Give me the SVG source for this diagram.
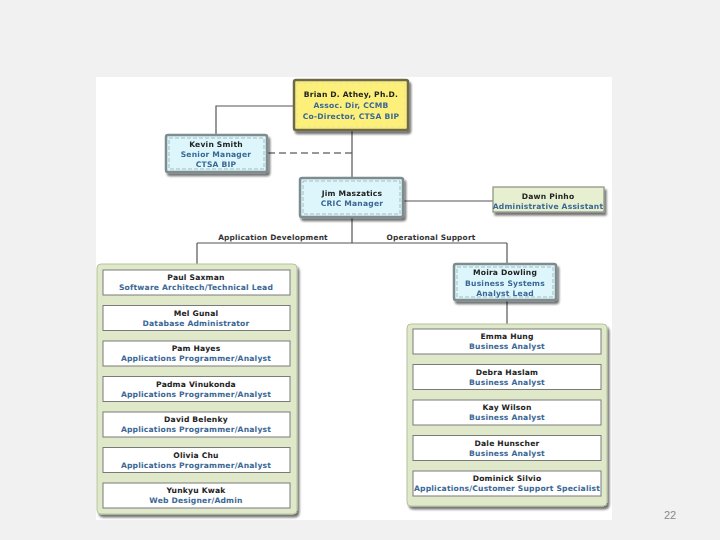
<svg xmlns="http://www.w3.org/2000/svg" width="720" height="540" viewBox="0 0 720 540">
<defs>
<filter id="sh" x="-10%" y="-10%" width="130%" height="140%">
<feGaussianBlur in="SourceAlpha" stdDeviation="1.2"/>
<feOffset dx="2" dy="2.5" result="o"/>
<feComponentTransfer><feFuncA type="linear" slope="0.55"/></feComponentTransfer>
<feMerge><feMergeNode/><feMergeNode in="SourceGraphic"/></feMerge>
</filter>
</defs>
<style>
.nm{font-family:"DejaVu Sans",Verdana,sans-serif;font-weight:bold;font-size:7.6px;letter-spacing:0.2px;fill:#222;text-anchor:middle}
.tt{font-family:"DejaVu Sans",Verdana,sans-serif;font-weight:bold;font-size:7.6px;letter-spacing:0.2px;fill:#3a6796;text-anchor:middle}
.lb{font-family:"DejaVu Sans",Verdana,sans-serif;font-weight:bold;font-size:7.4px;letter-spacing:0.2px;fill:#333;text-anchor:middle}
.ln{stroke:#555;stroke-width:1.2;fill:none}
.dl{stroke:#777;stroke-width:1.3;fill:none;stroke-dasharray:7,4}
.cy{fill:#ddf6fb;stroke:#7d8c8f;stroke-width:2.5}
.ye{fill:#fcf07a;stroke:#6e6a4a;stroke-width:2.5}
.in{fill:none;stroke:#ffffff;stroke-width:0.9;stroke-dasharray:4,2;opacity:0.9}
.grp{fill:#dfe8c8;stroke:#b5c29e;stroke-width:1}
.wb{fill:#ffffff;stroke:#7a7a7a;stroke-width:1}
.gr{fill:#e6efcf;stroke:#8a9080;stroke-width:1.2}
</style>
<rect x="0" y="0" width="720" height="540" fill="#f1f1f1"/>
<rect x="96" y="77" width="516" height="443" fill="#ffffff"/>

<g id="connectors">
<polyline class="ln" points="294,106 216,106 216,135"/>
<line class="dl" x1="268" y1="153" x2="352" y2="153"/>
<line class="ln" x1="352" y1="130" x2="352" y2="178"/>
<line class="ln" x1="403" y1="201" x2="493" y2="201"/>
<line class="ln" x1="352" y1="217" x2="352" y2="243"/>
<line class="ln" x1="197" y1="243" x2="507" y2="243"/>
<line class="ln" x1="197" y1="243" x2="197" y2="264"/>
<line class="ln" x1="507" y1="243" x2="507" y2="264"/>
<line class="ln" x1="507" y1="300" x2="507" y2="324"/>
<text class="lb" x="273" y="240">Application Development</text>
<text class="lb" x="431" y="240">Operational Support</text>
</g>

<g id="brian" filter="url(#sh)">
<rect class="ye" x="294" y="80" width="114" height="50" rx="2"/>
<rect class="in" x="297" y="83" width="108" height="44" style="stroke:#e8e0a0"/>
<text class="nm" x="351" y="97">Brian D. Athey, Ph.D.</text>
<text class="tt" x="351" y="108">Assoc. Dir, CCMB</text>
<text class="tt" x="351" y="119">Co-Director, CTSA BIP</text>
</g>

<g id="kevin" filter="url(#sh)">
<rect class="cy" x="166" y="135" width="101" height="37" rx="2"/>
<rect class="in" x="169" y="138" width="95" height="31" style="stroke:#9aabb0"/>
<text class="nm" x="216" y="147">Kevin Smith</text>
<text class="tt" x="216" y="157">Senior Manager</text>
<text class="tt" x="216" y="167">CTSA BIP</text>
</g>

<g id="jim" filter="url(#sh)">
<rect class="cy" x="300" y="178" width="103" height="39" rx="2"/>
<rect class="in" x="303" y="181" width="97" height="33" style="stroke:#9aabb0"/>
<text class="nm" x="352" y="196">Jim Maszatics</text>
<text class="tt" x="352" y="206">CRIC Manager</text>
</g>

<g id="dawn" filter="url(#sh)">
<rect class="gr" x="493" y="187" width="111" height="25"/>
<text class="nm" x="548" y="199">Dawn Pinho</text>
<text class="tt" x="548" y="209">Administrative Assistant</text>
</g>

<g id="moira" filter="url(#sh)">
<rect class="cy" x="454" y="264" width="102" height="36" rx="2"/>
<rect class="in" x="457" y="267" width="96" height="30" style="stroke:#9aabb0"/>
<text class="nm" x="505" y="275">Moira Dowling</text>
<text class="tt" x="505" y="285.5">Business Systems</text>
<text class="tt" x="505" y="296">Analyst Lead</text>
</g>

<g id="appdev" filter="url(#sh)">
<rect class="grp" x="97" y="264" width="200" height="250" rx="4"/>
</g>
<g id="paul"><rect class="wb" x="103" y="270" width="187" height="25"/><text class="nm" x="196" y="280">Paul Saxman</text><text class="tt" x="196" y="290">Software Architech/Technical Lead</text></g>
<g id="mel"><rect class="wb" x="103" y="305.5" width="187" height="25"/><text class="nm" x="196" y="315.5">Mel Gunal</text><text class="tt" x="196" y="325.5">Database Administrator</text></g>
<g id="pam"><rect class="wb" x="103" y="341" width="187" height="25"/><text class="nm" x="196" y="351">Pam Hayes</text><text class="tt" x="196" y="361">Applications Programmer/Analyst</text></g>
<g id="padma"><rect class="wb" x="103" y="376.5" width="187" height="25"/><text class="nm" x="196" y="386.5">Padma Vinukonda</text><text class="tt" x="196" y="396.5">Applications Programmer/Analyst</text></g>
<g id="david"><rect class="wb" x="103" y="412" width="187" height="25"/><text class="nm" x="196" y="422">David Belenky</text><text class="tt" x="196" y="432">Applications Programmer/Analyst</text></g>
<g id="olivia"><rect class="wb" x="103" y="447.5" width="187" height="25"/><text class="nm" x="196" y="457.5">Olivia Chu</text><text class="tt" x="196" y="467.5">Applications Programmer/Analyst</text></g>
<g id="yunkyu"><rect class="wb" x="103" y="483" width="187" height="25"/><text class="nm" x="196" y="493">Yunkyu Kwak</text><text class="tt" x="196" y="503">Web Designer/Admin</text></g>

<g id="opsup" filter="url(#sh)">
<rect class="grp" x="407" y="324" width="200" height="182" rx="4"/>
</g>
<g id="emma"><rect class="wb" x="413" y="329" width="188" height="25"/><text class="nm" x="507" y="339">Emma Hung</text><text class="tt" x="507" y="349">Business Analyst</text></g>
<g id="debra"><rect class="wb" x="413" y="364.5" width="188" height="25"/><text class="nm" x="507" y="374.5">Debra Haslam</text><text class="tt" x="507" y="384.5">Business Analyst</text></g>
<g id="kay"><rect class="wb" x="413" y="400" width="188" height="25"/><text class="nm" x="507" y="410">Kay Wilson</text><text class="tt" x="507" y="420">Business Analyst</text></g>
<g id="dale"><rect class="wb" x="413" y="435.5" width="188" height="25"/><text class="nm" x="507" y="445.5">Dale Hunscher</text><text class="tt" x="507" y="455.5">Business Analyst</text></g>
<g id="dominick"><rect class="wb" x="413" y="471" width="188" height="25"/><text class="nm" x="507" y="481">Dominick Silvio</text><text class="tt" x="507" y="491">Applications/Customer Support Specialist</text></g>

<text x="670" y="519" font-family="Liberation Sans, Arial, sans-serif" font-size="11" fill="#8a8a8a" text-anchor="middle">22</text>
</svg>
